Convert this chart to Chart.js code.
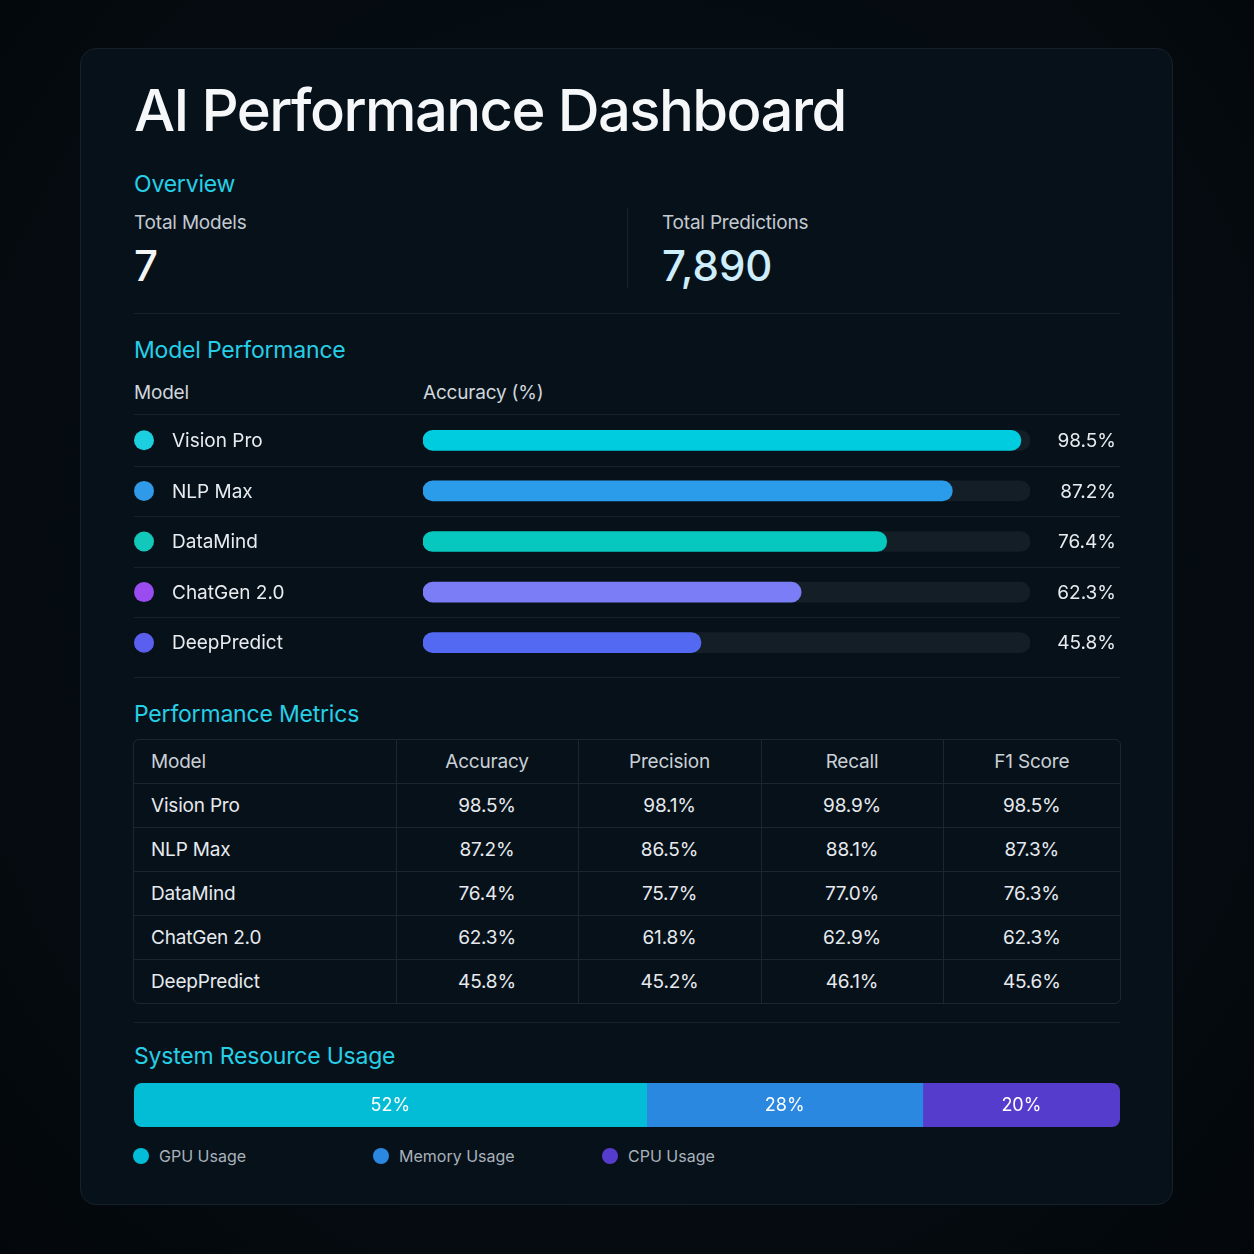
<!DOCTYPE html>
<html>
<head>
<meta charset="utf-8">
<script src="https://cdn.jsdelivr.net/npm/chart.js@4.4.1/dist/chart.umd.min.js"></script>
<style>
  html, body { margin: 0; padding: 0; }
  body {
    width: 1254px; height: 1254px; position: relative; overflow: hidden;
    background: radial-gradient(ellipse at 50% 45%, #08121a 0%, #050b10 70%, #03070b 100%);
    font-family: Inter, "Noto Sans", sans-serif;
  }
  .card {
    position: absolute; left: 80px; top: 48px; width: 1093px; height: 1157px;
    box-sizing: border-box; border: 1px solid #16212a; border-radius: 16px;
    background: #07111a;
  }
  .t { position: absolute; line-height: 1; white-space: nowrap; }
  .title { left: 134px; top: 81px; font-size: 58px; font-weight: 500; color: #f5f7f9; letter-spacing: -1.6px; }
  .section { font-size: 23px; color: #26cfe6; font-weight: 400; letter-spacing: -0.2px; }
  .label { font-size: 19px; color: #c3cad1; letter-spacing: -0.2px; }
  .big { font-size: 42px; font-weight: 500; }
  .hline { position: absolute; height: 1px; background: #17222b; }
  .vline { position: absolute; width: 1px; background: #17222b; }
  canvas { position: absolute; }
  .tbl {
    position: absolute; left: 133px; top: 739px; width: 988px; height: 265px;
    box-sizing: border-box; border: 1px solid #1b2730; border-radius: 6px; overflow: hidden;
  }
  .tbl table { border-collapse: collapse; width: 986px; table-layout: fixed; }
  .tbl td { height: 43px; border-right: 1px solid #1b2730; border-bottom: 1px solid #1b2730;
    font-size: 19px; color: #e6eaee; text-align: center; padding: 0; letter-spacing: -0.2px; }
  .tbl tr:first-child td { color: #c9d0d6; }
  .tbl td:first-child { text-align: left; padding-left: 17px; }
  .tbl td:last-child { border-right: none; }
  .tbl tr:last-child td { border-bottom: none; }
  .legend { position: absolute; top: 1148px; font-size: 16px; color: #a9b2bb; line-height: 17px; }
  .legend span.dot { position: absolute; left: -26px; top: 0px; width: 16px; height: 16px; border-radius: 50%; }
</style>
</head>
<body>
<div class="card"></div>
<div class="t title">AI Performance Dashboard</div>

<div class="t section" style="left:134px; top:173px;">Overview</div>
<div class="t label" style="left:134px; top:213px;">Total Models</div>
<div class="t big" id="totalModels" style="left:134px; top:245px; color:#f3f5f7;"></div>
<div class="vline" style="left:627px; top:208px; height:80px;"></div>
<div class="t label" style="left:662px; top:213px;">Total Predictions</div>
<div class="t big" id="totalPredictions" style="left:662px; top:245px; color:#cdeefa;"></div>
<div class="hline" style="left:134px; top:313px; width:986px;"></div>

<div class="t section" style="left:134px; top:339px;">Model Performance</div>
<div class="t label" style="left:134px; top:383px; color:#d0d6dc;">Model</div>
<div class="t label" style="left:423px; top:383px; color:#d0d6dc;">Accuracy (%)</div>
<div class="hline" style="left:134px; top:414px; width:986px;"></div>
<canvas id="perfChart" width="986" height="253" style="left:134px; top:415px;"></canvas>
<div class="hline" style="left:134px; top:677px; width:986px;"></div>

<div class="t section" style="left:134px; top:703px;">Performance Metrics</div>
<div class="tbl"><table id="metricsTable"></table></div>
<div class="hline" style="left:134px; top:1022px; width:986px;"></div>

<div class="t section" style="left:134px; top:1045px;">System Resource Usage</div>
<canvas id="resChart" width="986" height="44" style="left:134px; top:1083px;"></canvas>
<div id="resLegend"></div>

<script>
const totalModels = 7
const totalPredictions = 7890

const models = ["Vision Pro", "NLP Max", "DataMind", "ChatGen 2.0", "DeepPredict"]
const accuracy = [98.5, 87.2, 76.4, 62.3, 45.8]
const precision = [98.1, 86.5, 75.7, 61.8, 45.2]
const recall = [98.9, 88.1, 77.0, 62.9, 46.1]
const f1Score = [98.5, 87.3, 76.3, 62.3, 45.6]
const metricHeaders = ["Model", "Accuracy", "Precision", "Recall", "F1 Score"]

const resourceLabels = ["GPU Usage", "Memory Usage", "CPU Usage"]
const resourceValues = [52, 28, 20]

const barColors = ["#00cce0", "#2b9ce9", "#06c8bf", "#7a7df5", "#5369f2"]
const dotColors = ["#1ccfe0", "#2f9be8", "#12c8bb", "#9a4cf0", "#5b5ff0"]
const resourceColors = ["#03bcd5", "#2a88e0", "#553ccc"]

document.getElementById("totalModels").textContent = totalModels
document.getElementById("totalPredictions").textContent = totalPredictions.toLocaleString("en-US")

// metrics table
const table = document.getElementById("metricsTable")
const colWidths = [262, 182, 183, 182, 177]
let html = "<colgroup>" + colWidths.map(w => `<col style="width:${w}px">`).join("") + "</colgroup>"
html += "<tr>" + metricHeaders.map(h => `<td>${h}</td>`).join("") + "</tr>"
models.forEach((m, i) => {
  const cells = [m, accuracy[i], precision[i], recall[i], f1Score[i]]
  html += "<tr>" + cells.map((c, j) => `<td>${j === 0 ? c : c.toFixed(1) + "%"}</td>`).join("") + "</tr>"
})
table.innerHTML = html

const FONT = "Inter, 'Noto Sans', sans-serif"

const rowDecor = {
  id: "rowDecor",
  beforeDatasetsDraw(chart) {
    const ctx = chart.ctx
    const y = chart.scales.y
    ctx.save()
    ctx.fillStyle = "#17222b"
    for (let i = 0; i < models.length - 1; i++) {
      const yy = Math.round((y.getPixelForValue(i) + y.getPixelForValue(i + 1)) / 2)
      ctx.fillRect(0, yy, chart.width, 1)
    }
    ctx.restore()
  },
  afterDatasetsDraw(chart) {
    const ctx = chart.ctx
    const y = chart.scales.y
    ctx.save()
    ctx.font = "19px " + FONT
    ctx.textBaseline = "middle"
    models.forEach((m, i) => {
      const yy = y.getPixelForValue(i)
      ctx.fillStyle = dotColors[i]
      ctx.beginPath()
      ctx.arc(10, yy, 10, 0, Math.PI * 2)
      ctx.fill()
      ctx.fillStyle = "#e8ecef"
      ctx.textAlign = "left"
      ctx.fillText(m, 38, yy + 1)
      ctx.textAlign = "right"
      ctx.fillText(accuracy[i].toFixed(1) + "%", chart.width - 4, yy + 1)
    })
    ctx.restore()
  }
}

new Chart(document.getElementById("perfChart"), {
  type: "bar",
  data: {
    labels: models,
    datasets: [
      {
        data: accuracy,
        backgroundColor: barColors,
        borderRadius: 10,
        borderSkipped: false,
        barThickness: 20,
        grouped: false,
        order: 1
      },
      {
        data: models.map(() => 100),
        backgroundColor: "#131e27",
        borderRadius: 10,
        borderSkipped: false,
        barThickness: 20,
        grouped: false,
        order: 2
      }
    ]
  },
  options: {
    indexAxis: "y",
    responsive: false,
    animation: false,
    layout: { padding: { left: 289, right: 90, top: 0, bottom: 0 } },
    plugins: { legend: { display: false }, tooltip: { enabled: false } },
    scales: {
      x: { display: false, min: 0, max: 100 },
      y: { display: false }
    }
  },
  plugins: [rowDecor]
})

// rounds the outer ends of the stacked bar and writes the percentages
const segLabels = {
  id: "segLabels",
  beforeDatasetsDraw(chart) {
    const { left, top, width, height } = chart.chartArea
    const ctx = chart.ctx
    ctx.save()
    ctx.beginPath()
    ctx.roundRect(left, top, width, height, 8)
    ctx.clip()
  },
  afterDatasetsDraw(chart) {
    const ctx = chart.ctx
    ctx.restore()
    ctx.save()
    ctx.font = "18px " + FONT
    ctx.fillStyle = "#ffffff"
    ctx.textAlign = "center"
    ctx.textBaseline = "middle"
    chart.data.datasets.forEach((ds, i) => {
      const el = chart.getDatasetMeta(i).data[0]
      ctx.fillText(ds.data[0] + "%", (el.x + el.base) / 2, el.y + 1)
    })
    ctx.restore()
  }
}

new Chart(document.getElementById("resChart"), {
  type: "bar",
  data: {
    labels: ["Usage"],
    datasets: resourceValues.map((v, i) => ({
      label: resourceLabels[i],
      data: [v],
      backgroundColor: resourceColors[i],
      borderWidth: 0,
      barPercentage: 1,
      categoryPercentage: 1
    }))
  },
  options: {
    indexAxis: "y",
    responsive: false,
    animation: false,
    layout: { padding: 0 },
    plugins: { legend: { display: false }, tooltip: { enabled: false } },
    scales: {
      x: { display: false, stacked: true, min: 0, max: 100 },
      y: { display: false, stacked: true }
    }
  },
  plugins: [segLabels]
})

// legend
const legendX = [159, 399, 628]
document.getElementById("resLegend").innerHTML = resourceLabels.map((l, i) =>
  `<div class="legend" style="left:${legendX[i]}px"><span class="dot" style="background:${resourceColors[i]}"></span>${l}</div>`
).join("")
</script>
</body>
</html>
